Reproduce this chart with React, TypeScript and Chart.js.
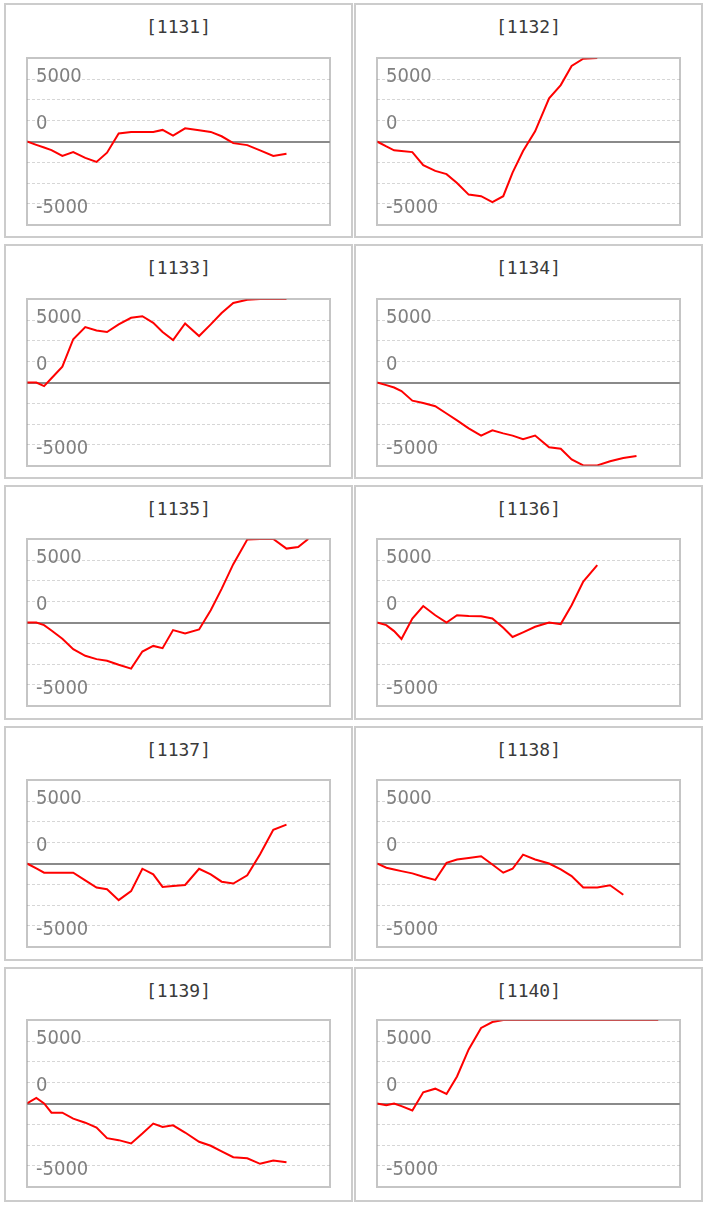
import React, { useEffect, useRef } from "react";
import { Chart, registerables } from "chart.js";

Chart.register(...registerables);

// ---------- data ----------
const MACHINES = ["[1131]", "[1132]", "[1133]", "[1134]", "[1135]", "[1136]", "[1137]", "[1138]", "[1139]", "[1140]"];

// sample times (minutes since opening), shared by all machines
const TIMES = [0, 24, 44, 63, 91, 119, 150, 179, 206, 236, 268, 297, 325, 349, 376, 407, 443, 473, 501, 531, 567, 600, 634, 668, 698, 724];

const S1131 = [0, -270, -480, -690, -1160, -850, -1320, -1640, -900, 640, 770, 770, 770, 930, 480, 1060, 900, 770, 420, -130, -290, -710, -1160, -980];
const S1132 = [0, -400, -710, -770, -850, -1900, -2360, -2620, -3330, -4260, -4390, -4870, -4390, -2490, -770, 820, 3470, 4530, 6060, 6640, 6700];
const S1133 = [0, 0, -290, 340, 1270, 3470, 4450, 4180, 4050, 4660, 5190, 5320, 4790, 4050, 3410, 4740, 3730, 4660, 5580, 6380, 6640, 6700, 6700, 6700];
const S1134 = [0, -210, -400, -690, -1460, -1640, -1900, -2490, -3040, -3680, -4260, -3840, -4080, -4260, -4550, -4260, -5190, -5320, -6170, -6650, -6650, -6320, -6060, -5900];
const S1135 = [0, 0, -210, -640, -1300, -2140, -2670, -2940, -3070, -3390, -3700, -2330, -1880, -2060, -610, -870, -560, 980, 2700, 4680, 6650, 6700, 6700, 5930, 6060, 6700];
const S1136 = [0, -210, -690, -1320, 320, 1320, 580, 0, 580, 530, 500, 320, -420, -1160, -790, -340, 0, -130, 1380, 3280, 4600];
const S1137 = [0, -400, -740, -740, -740, -740, -1350, -1930, -2060, -2940, -2220, -420, -870, -1880, -1800, -1720, -420, -870, -1460, -1610, -950, 740, 2700, 3120];
const S1138 = [0, -340, -480, -610, -790, -1060, -1320, 50, 320, 450, 580, -80, -740, -420, 710, 320, 0, -480, -1010, -1930, -1930, -1750, -2510];
const S1139 = [0, 450, 0, -740, -740, -1220, -1540, -1930, -2780, -2940, -3200, -2410, -1610, -1880, -1750, -2330, -3070, -3390, -3840, -4310, -4390, -4840, -4580, -4710];
const S1140 = [0, -130, 0, -210, -560, 900, 1190, 770, 2170, 4340, 6060, 6540, 6700, 6700, 6700, 6700, 6700, 6700, 6700, 6700, 6700, 6700, 6700, 6700, 6700, 6700];

const SERIES = [S1131, S1132, S1133, S1134, S1135, S1136, S1137, S1138, S1139, S1140];

const X_MAX = 780;
const Y_MIN = -6700;
const Y_MAX = 6700;
const GRID_VALUES = [-5000, -10000 / 3, -5000 / 3, 0, 5000 / 3, 10000 / 3, 5000];
const TICK_LABELS = ["5000", "0", "-5000"];

// ---------- layout ----------
const COL_LEFT = [4, 354];
const PANEL_W = 349;
const PANEL_H = 235;
const BOX_W = 303;
const BOX_H = 167;
const PAD = 4;

const LABEL_FONT = '"DejaVu Sans Condensed", "Liberation Sans", sans-serif';

const near = (a: number, b: number) => Math.abs(a - b) < 1;

const framePlugin = {
  id: "frame",
  beforeDatasetsDraw(chart: any) {
    const { ctx, chartArea: a, scales } = chart;
    const y0 = Math.round(scales.y.getPixelForValue(0));
    ctx.save();
    ctx.strokeStyle = "#8a8a8a";
    ctx.lineWidth = 2;
    ctx.beginPath();
    ctx.moveTo(a.left, y0);
    ctx.lineTo(a.right, y0);
    ctx.stroke();
    ctx.restore();
  },
  afterDatasetsDraw(chart: any) {
    const { ctx, chartArea: a } = chart;
    ctx.save();
    ctx.strokeStyle = "rgba(150,150,150,0.55)";
    ctx.lineWidth = 2;
    ctx.strokeRect(a.left, a.top, a.right - a.left, a.bottom - a.top);
    ctx.restore();
  },
};

function Panel({ title, values, col, row }: { title: string; values: number[]; col: number; row: number }) {
  const ref = useRef<HTMLCanvasElement | null>(null);

  useEffect(() => {
    if (!ref.current) return;
    const chart = new Chart(ref.current, {
      type: "line",
      data: {
        datasets: [
          {
            data: values.map((v, i) => ({ x: TIMES[i], y: v })),
            borderColor: "#ff0000",
            borderWidth: 2,
            pointRadius: 0,
            tension: 0,
            fill: false,
          },
        ],
      },
      options: {
        animation: false,
        responsive: false,
        maintainAspectRatio: false,
        devicePixelRatio: 1,
        layout: { padding: PAD },
        plugins: { legend: { display: false }, tooltip: { enabled: false }, title: { display: false } },
        scales: {
          x: { type: "linear", min: 0, max: X_MAX, display: false },
          y: {
            type: "linear",
            min: Y_MIN,
            max: Y_MAX,
            afterBuildTicks: (scale: any) => {
              scale.ticks = GRID_VALUES.map((v) => ({ value: v }));
            },
            afterFit: (scale: any) => {
              scale.width = 0;
              scale.paddingTop = 0;
              scale.paddingBottom = 0;
            },
            border: { display: false, dash: [3, 2] },
            grid: {
              drawTicks: false,
              lineWidth: 1,
              color: (ctx: any) => (ctx.tick && near(ctx.tick.value, 0) ? "rgba(0,0,0,0)" : "#d6d6d6"),
            },
            ticks: {
              autoSkip: false,
              mirror: true,
              padding: 9,
              color: "#808080",
              callback: (value: any) => {
                const v = Number(value);
                if (near(v, 5000)) return [TICK_LABELS[0], ""];
                if (near(v, 0)) return [TICK_LABELS[1], ""];
                if (near(v, -5000)) return ["", TICK_LABELS[2]];
                return "";
              },
              font: (ctx: any) => {
                const v = ctx.tick ? ctx.tick.value : 1;
                let lh = 24;
                if (near(v, 5000)) lh = 5;
                else if (near(v, 0)) lh = 36;
                else if (near(v, -5000)) lh = 8;
                return { family: LABEL_FONT, size: 20, lineHeight: lh + "px" };
              },
            },
          },
        },
      },
      plugins: [framePlugin],
    } as any);
    return () => chart.destroy();
  }, [values]);

  const panelLeft = COL_LEFT[col];
  const panelTop = Math.round(3 + 241 * row);
  const boxLeft = panelLeft + 23;
  const boxTop = Math.round(58 + 240.5 * row);

  return (
    <div
      style={{
        position: "absolute",
        left: panelLeft,
        top: panelTop,
        width: PANEL_W,
        height: PANEL_H,
        boxSizing: "border-box",
        border: "2px solid #cccccc",
        background: "#ffffff",
      }}
    >
      <div
        style={{
          position: "absolute",
          left: 0,
          right: 0,
          top: 12,
          textAlign: "center",
          fontFamily: '"DejaVu Sans Mono", monospace',
          fontSize: 18,
          lineHeight: "20px",
          color: "#3a3a3a",
        }}
      >
        {title}
      </div>
      <canvas
        ref={ref}
        width={BOX_W + PAD * 2}
        height={BOX_H + PAD * 2}
        style={{
          position: "absolute",
          left: boxLeft - PAD - panelLeft - 2,
          top: boxTop - PAD - panelTop - 2,
          width: BOX_W + PAD * 2,
          height: BOX_H + PAD * 2,
        }}
      />
    </div>
  );
}

export default function App() {
  return (
    <div style={{ position: "absolute", left: 0, top: 0, width: 707, height: 1206, background: "#ffffff" }}>
      {MACHINES.map((m, i) => (
        <Panel key={m} title={m} values={SERIES[i]} col={i % 2} row={Math.floor(i / 2)} />
      ))}
    </div>
  );
}
